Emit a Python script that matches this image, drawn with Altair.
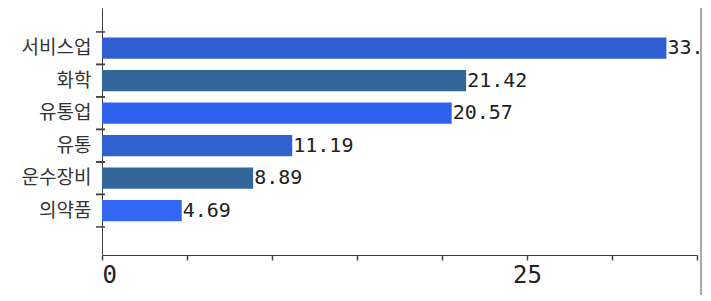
import altair as alt
import pandas as pd

categories = ["서비스업", "화학", "유통업", "유통", "운수장비", "의약품"]
values = [33.2, 21.42, 20.57, 11.19, 8.89, 4.69]
value_labels = ["33.2", "21.42", "20.57", "11.19", "8.89", "4.69"]
bar_colors = ["#2f5fd0", "#336699", "#3062f0", "#3063d0", "#33669a", "#3366f5"]
x_ticks = [0, 5, 10, 15, 20, 25, 30, 35]
x_labeled = [0, 25]

df = pd.DataFrame({"cat": categories, "val": values, "lbl": value_labels})

yscale = alt.Scale(domain=categories, paddingInner=0, paddingOuter=0.8, align=0.46)
xscale = alt.Scale(domain=[0, 35], nice=False, zero=True)

label_expr = " || ".join(f"datum.value == {v}" for v in x_labeled)

bars = alt.Chart(df).mark_bar(height=alt.RelativeBandSize(0.65)).encode(
    y=alt.Y("cat:N", scale=yscale, sort=categories, title=None,
            axis=alt.Axis(ticks=False, domain=True, domainColor="#404040",
                          labelFont="Noto Sans CJK KR", labelFontSize=19,
                          labelColor="#333333", labelPadding=11)),
    x=alt.X("val:Q", scale=xscale, title=None,
            axis=alt.Axis(values=x_ticks, grid=False, domainColor="#404040",
                          tickColor="#404040", tickSize=5, tickWidth=1.5,
                          labelExpr=f"({label_expr}) ? datum.label : ''",
                          labelFont="DejaVu Sans Mono", labelFontSize=24,
                          labelColor="#222222", labelPadding=3)),
    color=alt.Color("cat:N", scale=alt.Scale(domain=categories, range=bar_colors), legend=None),
)

text = alt.Chart(df).mark_text(align="left", baseline="middle", dx=1,
                               font="DejaVu Sans Mono", fontSize=20, color="#222222").encode(
    y=alt.Y("cat:N", sort=categories),
    x=alt.X("val:Q"),
    text="lbl:N",
)

ticks_top = alt.Chart(df).mark_rule(color="#404040", strokeWidth=1.5).encode(
    y=alt.Y("cat:N", sort=categories, bandPosition=0),
    x=alt.value(-6), x2=alt.value(3),
)
ticks_bottom = alt.Chart(df).mark_rule(color="#404040", strokeWidth=1.5).encode(
    y=alt.Y("cat:N", sort=categories, bandPosition=1),
    x=alt.value(-6), x2=alt.value(3),
)
border = alt.Chart(df.head(1)).mark_rule(color="#555555", strokeWidth=1).encode(
    x=alt.value(599), y=alt.value(0), y2=alt.value(300),
)

chart = alt.layer(bars, text, ticks_top, ticks_bottom, border).properties(
    width=595, height=247,
    autosize=alt.AutoSizeParams(type="none"),
    padding={"left": 94, "top": 0, "right": 6, "bottom": 40},
).configure(background="white").configure_view(strokeWidth=0, stroke="transparent")

chart.save("out.html", embed_options={"renderer": "svg", "actions": False})
